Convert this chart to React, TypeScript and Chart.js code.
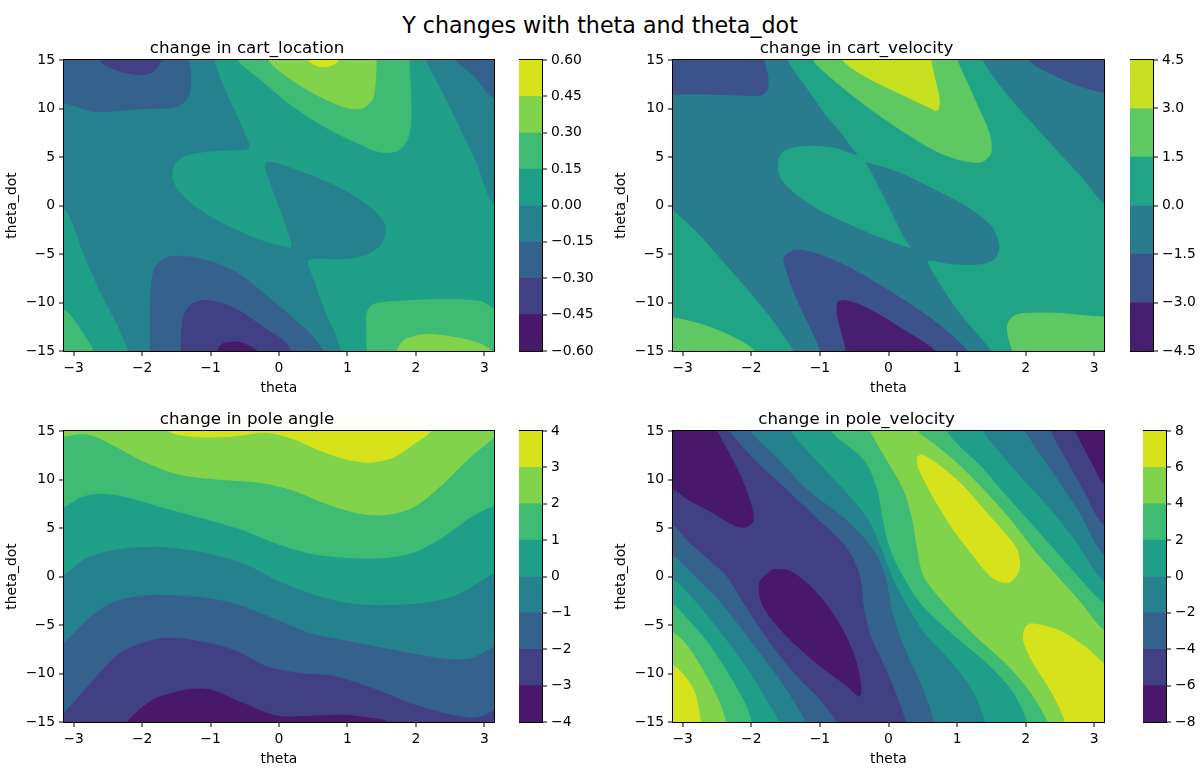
import { useEffect, useRef } from "react"
import { Chart, registerables } from "chart.js"

Chart.register(...registerables)

const FONT = "'DejaVu Sans', sans-serif"
Chart.defaults.font.family = FONT
Chart.defaults.color = "#000"

type Pt = [number, number]

// axes
const thetaRange: Pt = [-Math.PI, Math.PI]
const thetaDotRange: Pt = [-15, 15]
const thetaTicks = [-3, -2, -1, 0, 1, 2, 3]
const thetaDotTicks = [-15, -10, -5, 0, 5, 10, 15]

// contour levels (also the colorbar ticks)
const cartLocationLevels = [-0.6, -0.45, -0.3, -0.15, 0, 0.15, 0.3, 0.45, 0.6]
const cartVelocityLevels = [-4.5, -3, -1.5, 0, 1.5, 3, 4.5]
const poleAngleLevels = [-4, -3, -2, -1, 0, 1, 2, 3, 4]
const poleVelocityLevels = [-8, -6, -4, -2, 0, 2, 4, 6, 8]

// viridis sampled at the band midpoints
const viridis8 = ["#48186a", "#424085", "#34628d", "#26818e", "#209f88", "#3fbb74", "#82d34c", "#d5e21c"]
const viridis6 = ["#481f70", "#3b528b", "#287c8e", "#21a486", "#5ec862", "#c7e022"]

// ---- change in cart_location: region outlines (theta, theta_dot) ----
const clBelow0Main: Pt[] = [
  [-3.5, 16], [-0.95, 16], [-0.95, 14.9], [-0.8, 12], [-0.6, 9], [-0.48, 7], [-0.44, 5.9],
  [-0.86, 5.7], [-1.15, 5.5], [-1.39, 5.1], [-1.54, 4.1], [-1.56, 2.7], [-1.46, 1.4], [-1.25, 0],
  [-0.95, -1.4], [-0.61, -2.6], [-0.27, -3.6], [-0.03, -4.1], [0.17, -4.4],
  [0.19, -4.0], [0.12, -2.4], [0, 0], [-0.13, 2.4], [-0.2, 4.3],
  [-0.08, 4.4], [0.21, 3.75], [0.6, 2.7], [0.99, 1.4], [1.33, -0.2], [1.53, -1.7], [1.55, -2.7],
  [1.48, -4.1], [1.24, -5.1], [0.94, -5.5], [0.43, -5.6],
  [0.51, -7.8], [0.65, -10.6], [0.8, -13], [0.9, -14.9], [0.95, -16],
  [-2.15, -16], [-2.2, -14.9], [-2.38, -12], [-2.6, -9], [-2.85, -5], [-3.14, -0.2], [-3.5, 0.5],
]
const clBelow0Right: Pt[] = [[2.13, 16], [2.16, 14.9], [2.4, 11.6], [2.65, 8.0], [2.89, 4.4], [3.13, 0.2], [3.5, -1.5], [3.5, 16]]
const clBelowM15TopLeft: Pt[] = [
  [-3.5, 16], [-3.5, 10.5], [-3.14, 10.6], [-2.7, 9.7], [-2.0, 10.0], [-1.5, 10.2], [-1.33, 11.2],
  [-1.29, 13.3], [-1.32, 14.9], [-1.33, 16],
]
const clBelowM15Bottom: Pt[] = [
  [-1.88, -16], [-1.88, -11], [-1.86, -8], [-1.8, -6.3], [-1.6, -5.3], [-1.15, -5.5], [-0.65, -6.8],
  [-0.2, -9.2], [0.25, -11.9], [0.55, -14], [0.72, -16],
]
const clBelowM15TopRight: Pt[] = [[2.55, 16], [2.6, 14.9], [2.85, 13.4], [3.13, 11.1], [3.5, 10], [3.5, 16]]
const clBelowM30TopLeft: Pt[] = [[-2.65, 16], [-2.6, 14.8], [-2.3, 13.8], [-2.0, 13.5], [-1.83, 13.9], [-1.72, 15], [-1.7, 16]]
const clBelowM30Bottom: Pt[] = [
  [-1.43, -16], [-1.41, -12], [-1.3, -10.3], [-1.05, -9.8], [-0.65, -10.6], [-0.22, -12.6], [0.12, -14.3], [0.22, -16],
]
const clBelowM45Bottom: Pt[] = [[-0.93, -16], [-0.85, -14.4], [-0.6, -14.1], [-0.32, -15], [-0.3, -16]]
const clAbove15Top: Pt[] = [
  [-0.62, 16], [-0.59, 14.9], [-0.27, 13.0], [0.21, 10.2], [0.7, 8.0], [1.19, 6.3], [1.5, 5.5],
  [1.75, 5.7], [1.88, 6.9], [1.93, 9.2], [1.9, 14.9], [1.9, 16],
]
const clAbove15BottomRight: Pt[] = [
  [1.3, -16], [1.28, -13], [1.29, -11], [1.38, -10.2], [1.7, -9.9], [2.4, -9.7], [2.95, -9.9], [3.13, -10.6], [3.5, -11], [3.5, -16],
]
const clAbove15BottomLeft: Pt[] = [[-3.5, -10.5], [-3.14, -10.8], [-2.95, -12.3], [-2.72, -14.9], [-2.68, -16], [-3.5, -16]]
const clAbove30Top: Pt[] = [
  [-0.18, 16], [-0.15, 14.9], [0.12, 13.3], [0.5, 11.6], [0.94, 10.2], [1.19, 10.0], [1.36, 10.9], [1.41, 13], [1.42, 16],
]
const clAbove30BottomRight: Pt[] = [
  [1.7, -16], [1.75, -14.6], [1.85, -13.8], [2.16, -13.3], [2.65, -13.7], [2.95, -14.3], [3.1, -15], [3.2, -16],
]
const clAbove45Top: Pt[] = [[0.4, 16], [0.45, 14.8], [0.65, 14.3], [0.85, 14.8], [0.88, 16]]

// ---- change in cart_velocity ----
const cvBelow0Main: Pt[] = [
  [-3.5, 16], [-1.48, 16], [-1.47, 14.85], [-1.18, 11.9], [-0.94, 9.5], [-0.69, 7.4], [-0.56, 6.1], [-0.47, 5.3],
  [-0.79, 6.0], [-1.18, 6.2], [-1.52, 5.7], [-1.62, 4.4], [-1.57, 2.7], [-1.33, 1.0], [-0.99, -0.6],
  [-0.6, -1.9], [-0.21, -3.1], [0.13, -4.0], [0.33, -4.4],
  [0.25, -3.5], [0.08, -1.1], [-0.11, 1.6], [-0.28, 3.9], [-0.33, 4.4],
  [-0.21, 4.2], [0.18, 3.3], [0.67, 1.6], [1.15, -0.2], [1.49, -2.1], [1.61, -4.2], [1.54, -5.5],
  [1.35, -6.0], [0.91, -6.0], [0.57, -5.7],
  [0.7, -7.6], [1.03, -11.1], [1.47, -14.8], [1.55, -16],
  [-1.3, -16], [-1.39, -14.8], [-1.75, -11.2], [-2.24, -7.1], [-2.78, -2.8], [-3.14, -0.4], [-3.5, 2],
]
const cvBelow0Right: Pt[] = [[1.37, 16], [1.39, 14.85], [1.73, 11.5], [2.37, 6.4], [2.85, 2.7], [3.13, 0.3], [3.5, -1.5], [3.5, 16]]
const cvBelowM15TopLeft: Pt[] = [
  [-3.5, 16], [-3.5, 11.5], [-3.14, 11.5], [-2.7, 11.5], [-2.2, 11.4], [-1.86, 11.4], [-1.77, 11.9],
  [-1.76, 13.3], [-1.81, 14.85], [-1.82, 16],
]
const cvBelowM15TopRight: Pt[] = [[2.05, 16], [2.07, 14.85], [2.37, 13.6], [2.76, 12.4], [3.13, 11.7], [3.5, 11.5], [3.5, 16]]
const cvBelowM15Bottom: Pt[] = [
  [-1.0, -16], [-1.0, -14.8], [-1.15, -12.4], [-1.35, -9.4], [-1.49, -6.6], [-1.52, -5.3], [-1.35, -4.6],
  [-1.0, -5.1], [-0.52, -6.6], [0.21, -9.7], [0.7, -12.1], [1.13, -14.8], [1.2, -16],
]
const cvBelowM30Bottom: Pt[] = [
  [-0.6, -16], [-0.62, -14.8], [-0.67, -13.4], [-0.74, -11.4], [-0.74, -10.0], [-0.62, -9.8], [-0.28, -10.7],
  [0.21, -12.8], [0.65, -14.8], [0.72, -16],
]
const cvAbove15Top: Pt[] = [
  [-1.1, 16], [-1.08, 14.85], [-0.79, 12.9], [-0.31, 10.2], [0.18, 7.8], [0.67, 5.7], [1.05, 4.7], [1.35, 4.5],
  [1.49, 5.4], [1.47, 7.4], [1.3, 10.2], [1.15, 12.6], [1.01, 14.85], [1.0, 16],
]
const cvAbove15BottomLeft: Pt[] = [[-3.5, -11.5], [-3.14, -11.6], [-2.71, -12.3], [-2.32, -13.4], [-1.98, -14.8], [-1.9, -16], [-3.5, -16]]
const cvAbove15BottomRight: Pt[] = [
  [1.85, -16], [1.8, -14.8], [1.73, -12.7], [1.78, -11.7], [1.9, -11.2], [2.4, -11.1], [3.13, -11.5], [3.5, -11.5], [3.5, -16],
]
const cvAbove30Top: Pt[] = [
  [-0.68, 16], [-0.65, 14.85], [-0.31, 13.2], [0.18, 11.5], [0.57, 10.2], [0.71, 9.8], [0.74, 10.9], [0.67, 13.2],
  [0.62, 14.85], [0.61, 16],
]

// ---- change in pole angle (contour lines, region lies above each) ----
const paAboveM3: Pt[] = [
  [-3.5, 16], [-3.5, -16], [-2.25, -16], [-2.22, -14.9], [-1.83, -12.6], [-1.34, -11.6], [-1.0, -11.6], [-0.52, -13],
  [-0.03, -14.3], [0.46, -14.3], [0.94, -14.2], [1.33, -14.5], [1.58, -14.9], [1.62, -16], [3.5, -16], [3.5, 16],
]
const paAboveM2: Pt[] = [
  [-3.5, 16], [-3.5, -16.5], [-3.14, -14], [-2.71, -10.6], [-2.32, -7.8], [-1.73, -6.3], [-1.25, -6.5], [-0.66, -7.5],
  [-0.18, -9.2], [0.31, -9.9], [0.8, -10.2], [1.43, -11.6], [1.92, -13], [2.4, -14], [2.79, -14.5], [2.99, -14.3],
  [3.13, -13.7], [3.5, -12], [3.5, 16],
]
const paAboveM1: Pt[] = [
  [-3.5, 16], [-3.5, -9], [-3.14, -6.8], [-2.8, -4.4], [-2.46, -2.7], [-1.98, -1.9], [-1.25, -2.0], [-0.66, -2.7],
  [-0.03, -4.4], [0.46, -5.8], [0.94, -6.5], [1.67, -7.5], [2.4, -8.4], [2.79, -8.4], [3.13, -7.2], [3.5, -5.5], [3.5, 16],
]
const paAbove0: Pt[] = [
  [-3.5, 16], [-3.5, -1.5], [-3.14, 0.2], [-2.8, 2.0], [-2.32, 2.9], [-1.73, 3.1], [-1.15, 2.6], [-0.52, 1.4],
  [-0.03, -0.34], [0.46, -1.7], [0.94, -2.6], [1.43, -2.9], [2.06, -2.7], [2.55, -2.0], [2.89, -0.7], [3.13, 0.34],
  [3.5, 1.5], [3.5, 16],
]
const paAbove1: Pt[] = [
  [-3.5, 16], [-3.5, 6.5], [-3.14, 7.2], [-2.9, 8.2], [-2.61, 8.6], [-2.22, 8.2], [-1.73, 7.2], [-1.15, 6.1],
  [-0.52, 4.8], [-0.03, 3.4], [0.46, 2.4], [0.94, 2.0], [1.43, 1.9], [1.92, 2.4], [2.4, 4.1], [2.79, 6.1],
  [3.13, 7.3], [3.5, 8], [3.5, 16],
]
const paAbove2: Pt[] = [
  [-3.5, 16], [-3.5, 14.2], [-3.14, 14.5], [-2.8, 14.7], [-2.46, 13.7], [-1.98, 11.9], [-1.49, 10.6], [-1.0, 10.1],
  [-0.27, 9.7], [0.21, 8.9], [0.7, 7.5], [1.19, 6.5], [1.58, 6.4], [1.97, 7.2], [2.4, 9.6], [2.79, 12.3],
  [3.13, 14.3], [3.3, 15.5], [3.3, 16],
]
const paAbove3: Pt[] = [
  [-1.65, 16], [-1.59, 14.9], [-1.15, 14.4], [-0.66, 14.5], [-0.18, 14.85], [0.21, 14.2], [0.6, 13], [0.99, 12.1],
  [1.33, 11.8], [1.67, 12.3], [1.97, 13.7], [2.21, 14.9], [2.25, 16],
]

// ---- change in pole_velocity ----
const pvBelowM2Left: Pt[] = [
  [-3.5, 16], [-2.04, 16], [-2.03, 15], [-1.6, 12], [-1.2, 9], [-0.65, 6], [-0.25, 3], [-0.05, 0], [0.03, -3],
  [0.15, -6], [0.33, -9], [0.52, -12], [0.66, -15], [0.68, -16],
  [-1.18, -16], [-1.2, -15], [-1.38, -12.8], [-1.6, -10.4], [-1.9, -7.6], [-2.2, -4.8], [-2.5, -2.2], [-2.85, 0.3],
  [-3.14, 2.2], [-3.5, 3],
]
const pvBelowM2Right: Pt[] = [[1.98, 16], [2.0, 15], [2.22, 12.6], [2.51, 9.6], [2.8, 6.5], [3.13, 2.4], [3.5, 1.5], [3.5, 16]]
const pvBelowM4Left: Pt[] = [
  [-3.5, 16], [-2.33, 16], [-2.32, 15], [-1.95, 12], [-1.5, 9], [-1.05, 6], [-0.62, 3], [-0.42, 0], [-0.37, -3],
  [-0.27, -6], [-0.08, -9], [0.1, -12], [0.25, -15], [0.26, -16],
  [-0.72, -16], [-0.75, -15], [-0.98, -12.8], [-1.3, -10.5], [-1.62, -7.8], [-1.9, -5], [-2.12, -2.6], [-2.35, 0],
  [-2.64, 1.9], [-2.93, 3.75], [-3.14, 5.3], [-3.5, 6],
]
const pvBelowM4Right: Pt[] = [[2.35, 16], [2.37, 15], [2.61, 11.9], [2.85, 8.9], [3.13, 5.4], [3.5, 4.5], [3.5, 16]]
const pvBelowM6TopLeft: Pt[] = [
  [-3.5, 16], [-3.5, 9.2], [-3.14, 9.0], [-2.93, 8.0], [-2.59, 6.7], [-2.25, 5.3], [-2.08, 5.1], [-1.97, 5.8],
  [-2.01, 7.5], [-2.15, 10.2], [-2.32, 12.6], [-2.49, 14.9], [-2.52, 16],
]
const pvBelowM6Center: Pt[] = [
  [-1.69, 0.72], [-1.88, -0.65], [-1.83, -3.0], [-1.49, -6.1], [-1.0, -9.2], [-0.62, -11.2], [-0.42, -12.3],
  [-0.42, -10.5], [-0.52, -7.8], [-0.76, -4.4], [-1.1, -1.3], [-1.44, 0.55], [-1.69, 0.72],
]
const pvBelowM6TopRight: Pt[] = [[2.7, 16], [2.73, 15], [2.85, 13.3], [3.0, 11.3], [3.14, 9.6], [3.5, 8.5], [3.5, 16]]
const pvAbove0Corner: Pt[] = [
  [-3.5, 0.5], [-3.14, -0.34], [-2.93, -1.7], [-2.64, -4.1], [-2.3, -7.2], [-2.0, -10.2], [-1.78, -12.8], [-1.6, -15],
  [-1.58, -16], [-3.5, -16],
]
const pvAbove0Band: Pt[] = [
  [-1.43, 16], [-1.42, 15], [-1.05, 12], [-0.65, 9], [-0.3, 6], [-0.1, 3], [0.06, 0], [0.28, -3], [0.55, -6],
  [0.95, -9], [1.25, -12], [1.42, -15], [1.43, -16], [3.5, -16], [3.5, -1.2],
  [3.13, -0.5], [2.71, 3.75], [2.32, 7.2], [1.93, 10.2], [1.59, 13.0], [1.37, 15], [1.36, 16],
]
const pvAbove2Corner: Pt[] = [
  [-3.5, -2], [-3.14, -2.9], [-2.93, -4.4], [-2.64, -6.8], [-2.35, -9.9], [-2.1, -13], [-2.0, -15], [-1.98, -16], [-3.5, -16],
]
const pvAbove2Band: Pt[] = [
  [-0.85, 16], [-0.84, 15], [-0.35, 12], [-0.16, 9], [-0.08, 6], [0.02, 3], [0.22, 0], [0.5, -3], [0.95, -6],
  [1.45, -9], [1.83, -12], [2.03, -15], [2.05, -16], [3.5, -16], [3.5, -3.5],
  [3.13, -2.7], [2.8, -0.34], [2.46, 2.4], [2.07, 5.5], [1.69, 8.5], [1.35, 11.3], [1.05, 13.3], [0.84, 15], [0.83, 16],
]
const pvAbove4Corner: Pt[] = [
  [-3.5, -5], [-3.14, -5.8], [-2.93, -7.2], [-2.69, -9.9], [-2.49, -12.6], [-2.37, -15], [-2.35, -16], [-3.5, -16],
]
const pvAbove4Band: Pt[] = [
  [-0.27, 16], [-0.26, 15], [-0.02, 12], [0.22, 9], [0.35, 6], [0.42, 3], [0.52, 0], [0.85, -3], [1.25, -6],
  [1.72, -9], [2.08, -12], [2.33, -15], [2.34, -16], [3.5, -16], [3.5, -6.5],
  [3.13, -5.5], [2.8, -2.7], [2.46, 0], [2.12, 2.7], [1.78, 5.8], [1.39, 8.9], [1.01, 11.6], [0.67, 13.6], [0.42, 15], [0.41, 16],
]
const pvAbove6Corner: Pt[] = [[-3.5, -8.5], [-3.14, -9.2], [-2.98, -10.2], [-2.83, -11.9], [-2.74, -15], [-2.72, -16], [-3.5, -16]]
const pvAbove6Upper: Pt[] = [
  [0.42, 12.35], [0.44, 11.16], [0.69, 7.75], [0.93, 5.02], [1.22, 2.29], [1.51, -0.1], [1.75, -0.61], [1.9, 0.58],
  [1.88, 2.63], [1.71, 4.33], [1.41, 6.72], [1.07, 9.45], [0.73, 11.5], [0.49, 12.53], [0.42, 12.35],
]
const pvAbove6Lower: Pt[] = [
  [2.58, -16], [2.58, -15], [2.39, -12.05], [2.09, -8.63], [1.97, -6.59], [2.0, -5.22], [2.09, -4.88], [2.48, -5.56],
  [2.87, -7.27], [3.14, -8.98], [3.5, -10.5], [3.5, -16],
]

interface Region {
  band: number
  pts: Pt[]
}

// painting order: each later region is drawn over the earlier ones
const cartLocationRegions: Region[] = [
  { band: 3, pts: clBelow0Main },
  { band: 3, pts: clBelow0Right },
  { band: 2, pts: clBelowM15TopLeft },
  { band: 2, pts: clBelowM15Bottom },
  { band: 2, pts: clBelowM15TopRight },
  { band: 1, pts: clBelowM30TopLeft },
  { band: 1, pts: clBelowM30Bottom },
  { band: 0, pts: clBelowM45Bottom },
  { band: 5, pts: clAbove15Top },
  { band: 5, pts: clAbove15BottomRight },
  { band: 5, pts: clAbove15BottomLeft },
  { band: 6, pts: clAbove30Top },
  { band: 6, pts: clAbove30BottomRight },
  { band: 7, pts: clAbove45Top },
]
const cartVelocityRegions: Region[] = [
  { band: 2, pts: cvBelow0Main },
  { band: 2, pts: cvBelow0Right },
  { band: 1, pts: cvBelowM15TopLeft },
  { band: 1, pts: cvBelowM15TopRight },
  { band: 1, pts: cvBelowM15Bottom },
  { band: 0, pts: cvBelowM30Bottom },
  { band: 4, pts: cvAbove15Top },
  { band: 4, pts: cvAbove15BottomLeft },
  { band: 4, pts: cvAbove15BottomRight },
  { band: 5, pts: cvAbove30Top },
]
const poleAngleRegions: Region[] = [
  { band: 1, pts: paAboveM3 },
  { band: 2, pts: paAboveM2 },
  { band: 3, pts: paAboveM1 },
  { band: 4, pts: paAbove0 },
  { band: 5, pts: paAbove1 },
  { band: 6, pts: paAbove2 },
  { band: 7, pts: paAbove3 },
]
const poleVelocityRegions: Region[] = [
  { band: 2, pts: pvBelowM2Left },
  { band: 2, pts: pvBelowM2Right },
  { band: 1, pts: pvBelowM4Left },
  { band: 1, pts: pvBelowM4Right },
  { band: 0, pts: pvBelowM6TopLeft },
  { band: 0, pts: pvBelowM6Center },
  { band: 0, pts: pvBelowM6TopRight },
  { band: 4, pts: pvAbove0Corner },
  { band: 4, pts: pvAbove0Band },
  { band: 5, pts: pvAbove2Corner },
  { band: 5, pts: pvAbove2Band },
  { band: 6, pts: pvAbove4Corner },
  { band: 6, pts: pvAbove4Band },
  { band: 7, pts: pvAbove6Corner },
  { band: 7, pts: pvAbove6Upper },
  { band: 7, pts: pvAbove6Lower },
]

const tickFont = { family: FONT, size: 13.9 }
const titleFont = { family: FONT, size: 16.7, weight: "normal" as const }

function fmt(v: number, digits: number) {
  const s = Math.abs(v).toFixed(digits)
  return v < 0 && Number(s) !== 0 ? "\u2212" + s : s
}

const tickGrid = { drawOnChartArea: false, drawTicks: true, tickLength: 5, tickColor: "#000", tickWidth: 1, lineWidth: 0 }

// black box round the plot area, like matplotlib spines
const framePlugin = {
  id: "frame",
  afterDraw(chart: Chart) {
    const { ctx, chartArea: a } = chart
    const l = Math.round(a.left) - 0.5
    const t = Math.round(a.top) - 0.5
    const r = Math.round(a.right) + 0.5
    const b = Math.round(a.bottom) + 0.5
    ctx.save()
    ctx.strokeStyle = "#000"
    ctx.lineWidth = 1
    ctx.strokeRect(l, t, r - l, b - t)
    ctx.restore()
  },
}

const Y_AXIS_W = 64
const X_AXIS_H = 47
const TITLE_H = 30
const RIGHT_PAD = 14

interface PanelProps {
  title: string
  left: number
  top: number
  width: number
  height: number
  colors: string[]
  background: number
  regions: Region[]
}

function ContourPanel({ title, left, top, width, height, colors, background, regions }: PanelProps) {
  const canvasRef = useRef<HTMLCanvasElement>(null)
  const w = Y_AXIS_W + width + RIGHT_PAD
  const h = TITLE_H + height + X_AXIS_H

  useEffect(() => {
    if (!canvasRef.current) return
    const [x0, x1] = thetaRange
    const [y0, y1] = thetaDotRange
    const layers: Region[] = [
      { band: background, pts: [[x0 - 1, y0 - 1], [x0 - 1, y1 + 1], [x1 + 1, y1 + 1], [x1 + 1, y0 - 1]] },
      ...regions,
    ]
    const datasets = layers.map((r, i) => ({
      data: r.pts.map(([x, y]) => ({ x, y })),
      showLine: true,
      fill: "shape",
      backgroundColor: colors[r.band],
      borderColor: colors[r.band],
      borderWidth: 1,
      borderJoinStyle: "round",
      tension: 0.3,
      pointRadius: 0,
      pointHitRadius: 0,
      pointHoverRadius: 0,
      order: layers.length - i,
      clip: 0,
    }))

    const chart = new Chart(canvasRef.current, {
      type: "scatter",
      data: { datasets } as any,
      options: {
        responsive: false,
        animation: false,
        events: [],
        layout: { padding: { left: 0, right: RIGHT_PAD, top: 0, bottom: 0 } },
        elements: { line: { capBezierPoints: false } },
        plugins: {
          legend: { display: false },
          tooltip: { enabled: false },
          title: {
            display: true,
            text: title,
            color: "#000",
            font: titleFont,
            padding: { top: 9, bottom: 1 },
          },
        },
        scales: {
          x: {
            type: "linear",
            min: x0,
            max: x1,
            afterBuildTicks: (s: any) => {
              s.ticks = thetaTicks.map((value) => ({ value }))
            },
            afterFit: (s: any) => {
              s.height = X_AXIS_H
            },
            ticks: {
              font: tickFont,
              color: "#000",
              padding: 4,
              maxRotation: 0,
              autoSkip: false,
              callback: (v: any) => fmt(Number(v), 0),
            },
            grid: tickGrid,
            border: { display: false },
            title: { display: true, text: "theta", color: "#000", font: tickFont, padding: { top: 0, bottom: 1 } },
          },
          y: {
            type: "linear",
            min: y0,
            max: y1,
            afterBuildTicks: (s: any) => {
              s.ticks = thetaDotTicks.map((value) => ({ value }))
            },
            afterFit: (s: any) => {
              s.width = Y_AXIS_W
            },
            ticks: {
              font: tickFont,
              color: "#000",
              padding: 4,
              autoSkip: false,
              callback: (v: any) => fmt(Number(v), 0),
            },
            grid: tickGrid,
            border: { display: false },
            title: { display: true, text: "theta_dot", color: "#000", font: tickFont, padding: { top: 4, bottom: 0 } },
          },
        },
      } as any,
      plugins: [framePlugin],
    })

    return () => {
      chart.destroy()
    }
  }, [title, colors, background, regions])

  return (
    <canvas
      ref={canvasRef}
      width={w}
      height={h}
      style={{ position: "absolute", left: left - Y_AXIS_W, top: top - TITLE_H, width: w, height: h }}
    />
  )
}

interface ColorBarProps {
  left: number
  top: number
  width: number
  height: number
  levels: number[]
  colors: string[]
  digits: number
}

const CB_AXIS_W = 60

function ColorBar({ left, top, width, height, levels, colors, digits }: ColorBarProps) {
  const canvasRef = useRef<HTMLCanvasElement>(null)
  const w = width + CB_AXIS_W
  const h = TITLE_H + height + X_AXIS_H

  useEffect(() => {
    if (!canvasRef.current) return
    const datasets = colors.map((c, i) => ({
      data: [[levels[i], levels[i + 1]]],
      backgroundColor: c,
      borderWidth: 0,
      barPercentage: 1,
      categoryPercentage: 1,
      grouped: false,
    }))
    const chart = new Chart(canvasRef.current, {
      type: "bar",
      data: { labels: [""], datasets } as any,
      options: {
        responsive: false,
        animation: false,
        events: [],
        layout: { padding: { left: 0, right: 0, top: TITLE_H, bottom: X_AXIS_H } },
        plugins: { legend: { display: false }, tooltip: { enabled: false } },
        scales: {
          x: { display: false },
          y: {
            position: "right",
            min: levels[0],
            max: levels[levels.length - 1],
            afterBuildTicks: (s: any) => {
              s.ticks = levels.map((value) => ({ value }))
            },
            afterFit: (s: any) => {
              s.width = CB_AXIS_W
            },
            ticks: {
              font: tickFont,
              color: "#000",
              padding: 4,
              autoSkip: false,
              callback: (v: any) => fmt(Number(v), digits),
            },
            grid: tickGrid,
            border: { display: false },
          },
        },
      } as any,
      plugins: [framePlugin],
    })
    return () => {
      chart.destroy()
    }
  }, [levels, colors, digits])

  return (
    <canvas
      ref={canvasRef}
      width={w}
      height={h}
      style={{ position: "absolute", left, top: top - TITLE_H, width: w, height: h }}
    />
  )
}

const ROW1 = 60
const ROW2 = 431
const COL1 = 64
const COL2 = 673
const AX_H = 291

export default function App() {
  return (
    <div
      style={{
        position: "absolute",
        left: 0,
        top: 0,
        width: 1200,
        height: 770,
        overflow: "hidden",
        background: "#fff",
        fontFamily: FONT,
      }}
    >
      <div
        style={{
          position: "absolute",
          left: 0,
          top: 10,
          width: 1200,
          lineHeight: "30px",
          fontSize: 22.2,
          textAlign: "center",
          color: "#000",
        }}
      >
        Y changes with theta and theta_dot
      </div>

      <ContourPanel title="change in cart_location" left={COL1} top={ROW1} width={430} height={AX_H}
        colors={viridis8} background={4} regions={cartLocationRegions} />
      <ColorBar left={519} top={ROW1} width={23} height={AX_H} levels={cartLocationLevels} colors={viridis8} digits={2} />

      <ContourPanel title="change in cart_velocity" left={COL2} top={ROW1} width={431} height={AX_H}
        colors={viridis6} background={3} regions={cartVelocityRegions} />
      <ColorBar left={1130} top={ROW1} width={23} height={AX_H} levels={cartVelocityLevels} colors={viridis6} digits={1} />

      <ContourPanel title="change in pole angle" left={COL1} top={ROW2} width={430} height={AX_H}
        colors={viridis8} background={0} regions={poleAngleRegions} />
      <ColorBar left={519} top={ROW2} width={23} height={AX_H} levels={poleAngleLevels} colors={viridis8} digits={0} />

      <ContourPanel title="change in pole_velocity" left={COL2} top={ROW2} width={431} height={AX_H}
        colors={viridis8} background={3} regions={poleVelocityRegions} />
      <ColorBar left={1143} top={ROW2} width={23} height={AX_H} levels={poleVelocityLevels} colors={viridis8} digits={0} />
    </div>
  )
}
